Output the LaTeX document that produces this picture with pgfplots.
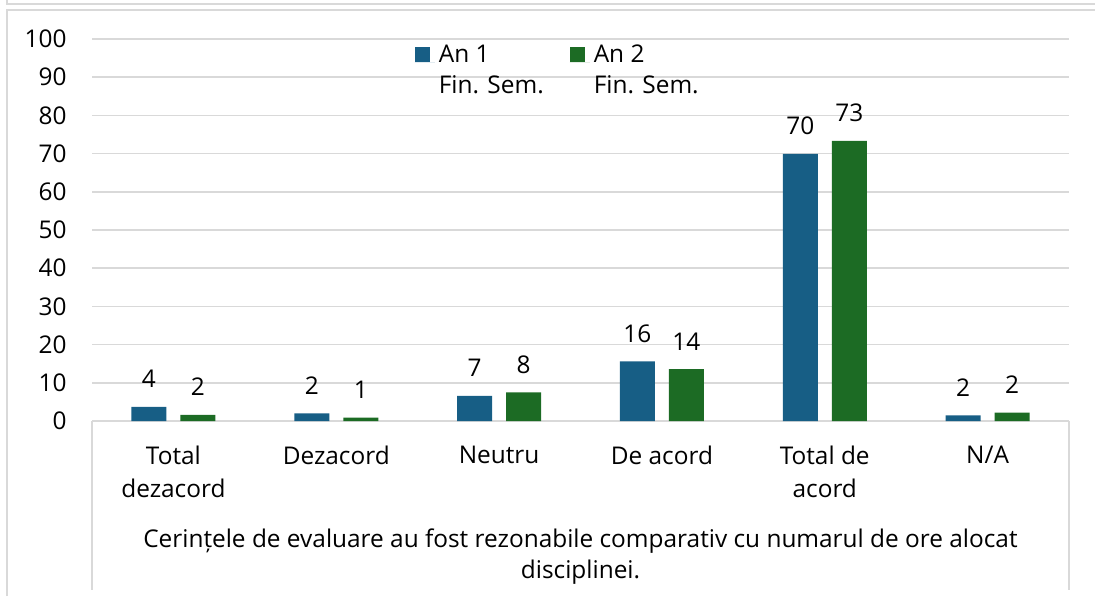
\documentclass[border=0pt]{standalone}
\usepackage{pgfplots}
\pgfplotsset{compat=1.18}
\usepackage{fontspec}
\setmainfont{Open Sans}
\definecolor{barblue}{HTML}{175E85}
\definecolor{bargreen}{HTML}{1C6B24}
\definecolor{gridgray}{HTML}{D9D9D9}
\newcommand{\cf}{\fontsize{12.2}{15.5}\selectfont}
\begin{document}
\begin{tikzpicture}[x=0.5pt,y=0.5pt]
\useasboundingbox (0,0) rectangle (1095,596);
\draw[gridgray, line width=1pt] (7,596) -- (7,592) -- (1095,592);
\draw[gridgray, line width=1pt] (7,0) -- (7,586) -- (1095,586);
\begin{axis}[
  at={(46pt,87.5pt)}, anchor=south west,
  scale only axis, width=488.5pt, height=191pt,
  xmin=-0.5, xmax=5.5, ymin=0, ymax=100,
  ybar=7pt, bar width=17.5pt,
  xtick={0,...,5},
  xticklabels={{Total\\dezacord},Dezacord,Neutru,{De acord},{Total de\\acord},N/A},
  ytick={0,10,...,100},
  ymajorgrids, grid style={gridgray, line width=0.8pt},
  axis line style={draw=none},
  major tick length=0pt,
  tick label style={font=\cf},
  xticklabel style={align=center, yshift=-9pt, font=\fontsize{12.2}{16.5}\selectfont},
  yticklabel style={xshift=-9.2pt},
  /pgf/number format/assume math mode=true,
  point meta=explicit symbolic,
  nodes near coords,
  nodes near coords style={anchor=base, yshift=9.5pt, font=\cf, text=black},
  legend columns=2,
  legend style={draw=none, fill=none, at={(0.33,0.997)}, anchor=north west, font=\cf,
    cells={align=left}, inner sep=0pt,
    /tikz/every even column/.append style={column sep=11pt}},
  legend cell align=left,
  legend image code/.code={\fill[#1,draw=none] (0pt,4pt) rectangle (7.5pt,11.5pt); \path (0pt,4pt) -- (10pt,4pt);},
  clip=false,
]
\addplot[fill=barblue, draw=none] coordinates {(0,3.7)[4] (1,2.0)[2] (2,6.6)[7] (3,15.6)[16] (4,69.9)[70] (5,1.5)[2]};
\addplot[fill=bargreen, draw=none] coordinates {(0,1.6)[2] (1,0.9)[1] (2,7.5)[8] (3,13.6)[14] (4,73.3)[73] (5,2.2)[2]};
\legend{An 1\\Fin. Sem., An 2\\Fin. Sem.}
\draw[gridgray, line width=1pt] (rel axis cs:0,0) -- ++(0pt,-84.5pt);
\draw[gridgray, line width=1pt] (rel axis cs:1,0) -- ++(0pt,-84.5pt);
\end{axis}
\node[anchor=base, font=\cf, inner sep=0pt] at (580.5,49) {Cerințele de evaluare au fost rezonabile comparativ cu numarul de ore alocat};
\node[anchor=base, font=\cf, inner sep=0pt] at (580.5,18) {disciplinei.};
\end{tikzpicture}
\end{document}
